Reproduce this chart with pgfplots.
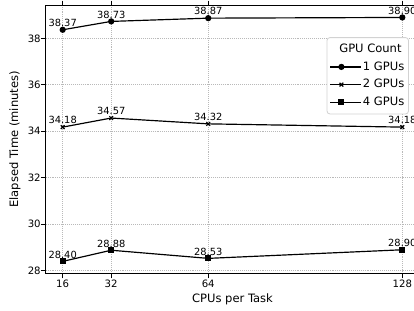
\documentclass[border=0pt]{standalone}
\usepackage{fontspec}
\setmainfont{DejaVu Sans}
\usepackage{pgfplots}
\pgfplotsset{compat=1.18}
\begin{document}
\begin{tikzpicture}
\useasboundingbox (0,0) rectangle (298.08pt,223.92pt);
\begin{axis}[
  at={(32.9pt,26.93pt)}, anchor=south west,
  scale only axis, width=269pt, height=193.2pt,
  xmin=10.4, xmax=133.6, ymin=27.875, ymax=39.425,
  xtick={16,32,64,128}, ytick={28,30,32,34,36,38},
  /pgf/number format/assume math mode=true,
  tick align=outside, major tick length=3.4pt,
  tick style={black, line width=0.6pt},
  axis line style={line width=0.6pt},
  grid=major, major grid style={densely dotted, gray!55, line width=0.5pt},
  ticklabel style={font=\fontsize{7.3}{8}\selectfont},
  xticklabel style={inner sep=0pt, anchor=north, yshift=-1.2pt},
  yticklabel style={inner sep=0pt, anchor=east, xshift=0pt},
  xlabel={CPUs per Task},
  ylabel={Elapsed Time (minutes)},
  label style={font=\fontsize{8.3}{10}\selectfont},
  xlabel style={at={(axis description cs:0.5,-0.1077)}, anchor=base, inner sep=0pt},
  ylabel style={at={(axis description cs:-0.0822,0.5)}, anchor=center, inner sep=0pt},
  nodes near coords={\pgfmathprintnumber[fixed,zerofill,precision=2]{\pgfplotspointmeta}},
  every node near coord/.append style={inner sep=0pt, anchor=south, yshift=1.8pt, font=\fontsize{7.1}{8}\selectfont, black},
  legend image code/.code={\draw[mark repeat=2,mark phase=2] plot coordinates {(0pt,0pt)(7.9pt,0pt)(15.8pt,0pt)}; \path (0pt,0pt) -- (22pt,0pt);},
  legend style={at={(rel axis cs:0.752,0.881)}, anchor=north west,
    draw=gray!35, line width=0.6pt, rounded corners=2pt, fill=white,
    font=\fontsize{8.3}{10}\selectfont, inner xsep=2pt, inner ysep=3.6pt,
    row sep=3.25pt, cells={anchor=west},
    nodes={inner sep=1pt, text height=6pt, text depth=1.5pt}},
]
\addlegendimage{empty legend}
\addlegendentry{\hspace{-17pt}GPU Count}
\addplot[black, line width=0.85pt, mark=*, mark size=1.8pt, mark options={solid, fill=black}] coordinates {(16,38.37) (32,38.73) (64,38.87) (128,38.90)};
\addlegendentry{1 GPUs}
\addplot[black, line width=0.85pt, mark=x, mark size=1.9pt, mark options={solid}] coordinates {(16,34.18) (32,34.57) (64,34.32) (128,34.18)};
\addlegendentry{2 GPUs}
\addplot[black, line width=0.85pt, mark=square*, mark size=1.8pt, mark options={solid, fill=black}] coordinates {(16,28.40) (32,28.88) (64,28.53) (128,28.90)};
\addlegendentry{4 GPUs}
\end{axis}
\end{tikzpicture}
\end{document}
